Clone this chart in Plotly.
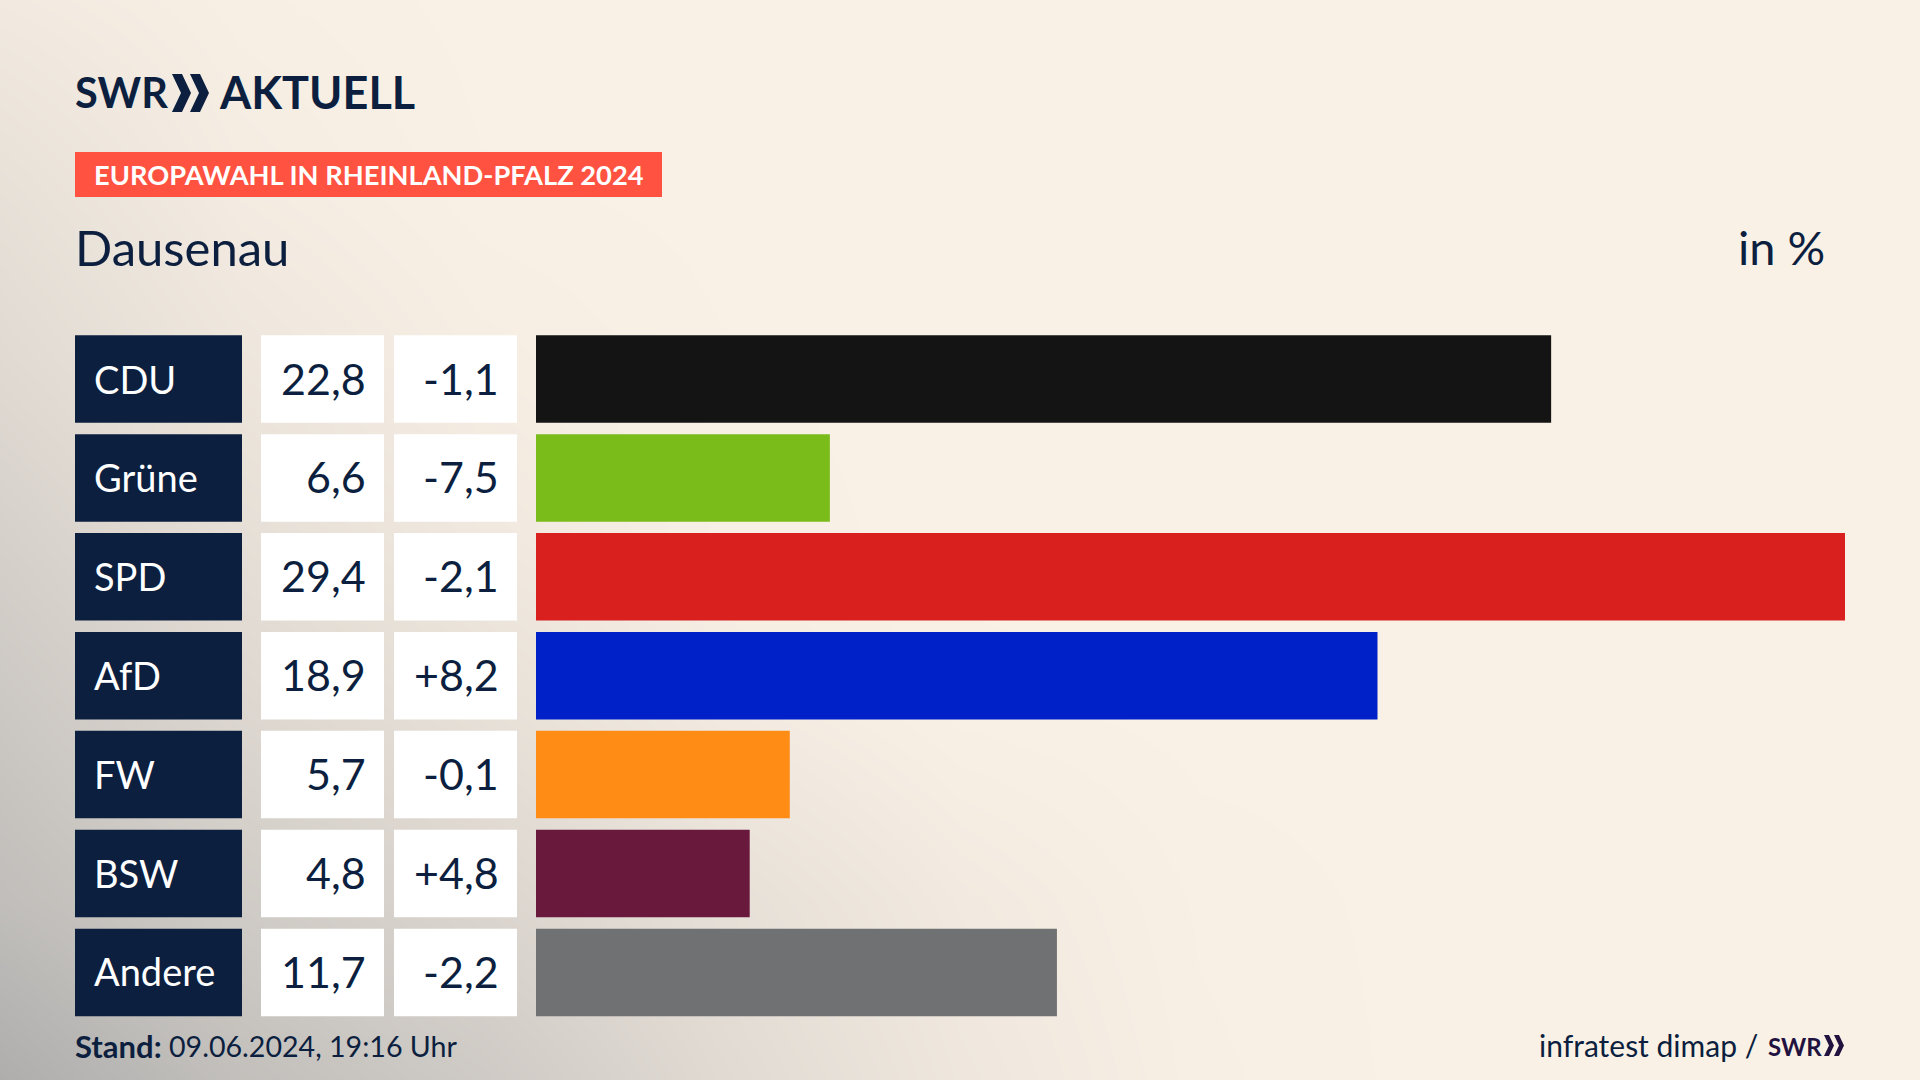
import plotly.graph_objects as go

parties = ["CDU", "Grüne", "SPD", "AfD", "FW", "BSW", "Andere"]
shares = [22.8, 6.6, 29.4, 18.9, 5.7, 4.8, 11.7]
changes = ["-1,1", "-7,5", "-2,1", "+8,2", "-0,1", "+4,8", "-2,2"]
bar_colors = ["#141414", "#7abd1a", "#d9201e", "#0020c8", "#ff8c14", "#69193c", "#707173"]
full_cell = [1, 1, 1, 1, 1, 1, 1]

W, H = 1920, 1080
NAVY = "#0c1f3f"
CREAM = "#faf1e6"
FONT = "Lato"

bg_x = [0, 240, 480, 720, 960, 1200, 1440, 1680, 1920]
bg_y = [0, 180, 360, 540, 720, 900, 1080]
bg_shade = [
    [.90, .97, 1, 1, 1, 1, 1, 1, 1],
    [.78, .93, .99, 1, 1, 1, 1, 1, 1],
    [.68, .85, .95, .99, 1, 1, 1, 1, 1],
    [.55, .75, .88, .98, 1, 1, 1, 1, 1],
    [.42, .63, .76, .90, .98, 1, 1, 1, 1],
    [.30, .48, .62, .76, .90, .98, 1, 1, 1],
    [.08, .32, .46, .68, .86, .97, 1, 1, 1],
]


def px(x):
    return x / W


def py(y):
    return 1 - y / H


def dom(a, b):
    return [a / W, b / W]


fig = go.Figure()
fig.add_trace(go.Heatmap(x=bg_x, y=bg_y, z=bg_shade, zmin=0, zmax=1, zsmooth="best", showscale=False,
                         colorscale=[[0, "#a8a8a8"], [1, CREAM]], hoverinfo="skip",
                         xaxis="x", yaxis="y"))
fig.add_trace(go.Bar(y=parties, x=shares, orientation="h", marker=dict(color=bar_colors, line_width=0),
                     xaxis="x2", yaxis="y2", showlegend=False))
fig.add_trace(go.Bar(y=parties, x=full_cell, orientation="h", marker=dict(color=NAVY, line_width=0),
                     xaxis="x3", yaxis="y2", showlegend=False, hoverinfo="skip"))
fig.add_trace(go.Bar(y=parties, x=full_cell, orientation="h", marker=dict(color="#ffffff", line_width=0),
                     xaxis="x4", yaxis="y2", showlegend=False, hoverinfo="skip"))
fig.add_trace(go.Bar(y=parties, x=full_cell, orientation="h", marker=dict(color="#ffffff", line_width=0),
                     xaxis="x5", yaxis="y2", showlegend=False, hoverinfo="skip"))

hidden = dict(visible=False, showgrid=False, zeroline=False, fixedrange=True)
ann = []


def text(x, y, s, size, color=NAVY, anchor="left", family=FONT, yref="paper", yshift=0):
    ann.append(dict(x=px(x), y=py(y) if yref == "paper" else y, xref="paper", yref=yref, text=s,
                    showarrow=False, xanchor=anchor, yanchor="middle", align=anchor,
                    font=dict(family=family, size=size, color=color),
                    yshift=yshift, borderpad=0, borderwidth=0))


for i, p in enumerate(parties):
    shift = 0 if i == 0 else 1
    text(94, p, p, 38, "#ffffff", yref="y2", yshift=shift)
    text(366, p, f"{shares[i]:.1f}".replace(".", ","), 43, yref="y2", anchor="right", yshift=shift)
    text(499, p, changes[i], 43, yref="y2", anchor="right", yshift=shift)

text(75, 92, "<b>SWR</b>", 41.5)
text(219, 92, "<b>AKTUELL</b>", 45)
text(94, 175, "<b>EUROPAWAHL IN RHEINLAND-PFALZ 2024</b>", 27.25, "#ffffff")
text(75, 247, "Dausenau", 49)
text(1825, 247, "in %", 47, anchor="right")
text(75, 1046, "<b>Stand:</b>", 31)
text(169, 1046, "09.06.2024, 19:16 Uhr", 28.6)
text(1539, 1045, "infratest dimap /", 30)
text(1768, 1046, "<b>SWR</b>", 24, "#22123f")


def chevron(x, y, w, h, depth):
    pts = [(x, y), (x + w - depth, y), (x + w, y + h / 2), (x + w - depth, y + h), (x, y + h), (x + depth, y + h / 2)]
    return "M " + " L ".join(f"{px(a):.5f},{py(b):.5f}" for a, b in pts) + " Z"


shapes = [dict(type="rect", xref="paper", yref="paper", x0=px(75), x1=px(662), y0=py(152), y1=py(197),
               fillcolor="#ff5240", line_width=0)]
for cx, cy, w, h, dp, col in [(172, 74, 19, 38, 9, NAVY), (190, 74, 19, 38, 9, NAVY),
                              (1824, 1035, 10, 21, 5, "#22123f"), (1834, 1035, 10, 21, 5, "#22123f")]:
    shapes.append(dict(type="path", xref="paper", yref="paper", path=chevron(cx, cy, w, h, dp),
                       fillcolor=col, line_width=0))

row_pitch = 98.9
top = 379 - row_pitch / 2
bottom = top + 7 * row_pitch

fig.update_layout(
    width=W, height=H, autosize=False,
    margin=dict(l=0, r=0, t=0, b=0, pad=0),
    paper_bgcolor=CREAM, plot_bgcolor="rgba(0,0,0,0)",
    barmode="overlay", bargap=1 - 87.5 / row_pitch,
    showlegend=False,
    xaxis=dict(domain=[0, 1], range=[0, 1920], anchor="y", **hidden),
    yaxis=dict(domain=[0, 1], range=[1080, 0], anchor="x", **hidden),
    xaxis2=dict(domain=dom(536, 1845), range=[0, 29.4], anchor="y2", **hidden),
    yaxis2=dict(domain=[py(bottom), py(top)], type="category", categoryorder="array", categoryarray=parties,
                range=[6.5, -0.5], anchor="x2", **hidden),
    xaxis3=dict(domain=dom(75, 242), range=[0, 1], anchor="y2", **hidden),
    xaxis4=dict(domain=dom(261, 384), range=[0, 1], anchor="y2", **hidden),
    xaxis5=dict(domain=dom(394, 517), range=[0, 1], anchor="y2", **hidden),
    annotations=ann, shapes=shapes,
)
fig.write_html("out.html", config={"displayModeBar": False},
               post_script="document.body.style.margin='0';document.body.style.overflow='hidden';")
